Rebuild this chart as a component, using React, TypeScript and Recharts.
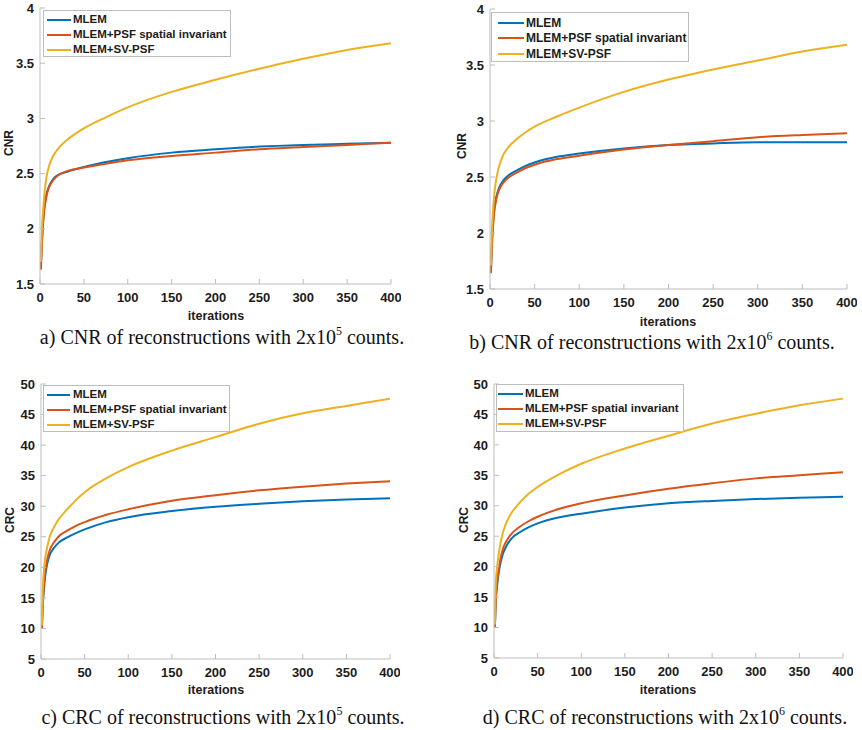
import React from 'react';
import { LineChart, Line, XAxis, YAxis, Legend } from 'recharts';

// ---------- data ----------
const iterations = [1, 2, 4, 7, 10, 15, 20, 30, 40, 50, 75, 100, 150, 200, 250, 300, 350, 400];
const xTicks = [0, 50, 100, 150, 200, 250, 300, 350, 400];
const cnrTicks = [1.5, 2, 2.5, 3, 3.5, 4];
const crcTicks = [5, 10, 15, 20, 25, 30, 35, 40, 45, 50];
const seriesNames = ['MLEM', 'MLEM+PSF spatial invariant', 'MLEM+SV-PSF'];
const seriesColors = ['#0072BD', '#D95319', '#EDB120'];

// a) CNR, 2x10^5 counts
const cnrLowMlem = [1.66, 1.85, 2.12, 2.3, 2.38, 2.45, 2.485, 2.515, 2.54, 2.56, 2.605, 2.64, 2.69, 2.72, 2.745, 2.76, 2.77, 2.78];
const cnrLowPsf = [1.63, 1.82, 2.1, 2.28, 2.37, 2.44, 2.48, 2.52, 2.54, 2.555, 2.59, 2.62, 2.66, 2.69, 2.72, 2.74, 2.76, 2.78];
const cnrLowSv = [1.7, 1.95, 2.22, 2.45, 2.56, 2.66, 2.72, 2.8, 2.86, 2.91, 3.01, 3.1, 3.24, 3.35, 3.45, 3.54, 3.62, 3.68];

// b) CNR, 2x10^6 counts
const cnrHighMlem = [1.65, 1.88, 2.15, 2.32, 2.4, 2.47, 2.51, 2.56, 2.6, 2.63, 2.68, 2.71, 2.755, 2.785, 2.8, 2.81, 2.81, 2.81];
const cnrHighPsf = [1.64, 1.86, 2.13, 2.3, 2.38, 2.45, 2.49, 2.54, 2.58, 2.61, 2.66, 2.69, 2.745, 2.785, 2.82, 2.855, 2.875, 2.89];
const cnrHighSv = [1.71, 1.98, 2.27, 2.48, 2.59, 2.7, 2.76, 2.84, 2.9, 2.95, 3.04, 3.12, 3.26, 3.37, 3.46, 3.54, 3.62, 3.68];

// c) CRC, 2x10^5 counts
const crcLowMlem = [10, 13.5, 17.5, 20.5, 22.0, 23.2, 24.0, 24.9, 25.6, 26.2, 27.4, 28.2, 29.2, 29.9, 30.4, 30.8, 31.1, 31.3];
const crcLowPsf = [10, 14, 18.2, 21.2, 22.8, 24.1, 25.0, 26.0, 26.8, 27.4, 28.6, 29.5, 30.9, 31.8, 32.6, 33.2, 33.7, 34.1];
const crcLowSv = [10.5, 16, 20.5, 23.2, 25.0, 26.6, 27.8, 29.5, 31.0, 32.3, 34.6, 36.4, 39.1, 41.3, 43.5, 45.2, 46.4, 47.6];

// d) CRC, 2x10^6 counts
const crcHighMlem = [10, 14, 17.5, 20.3, 22.0, 23.6, 24.6, 25.7, 26.5, 27.1, 28.1, 28.7, 29.7, 30.4, 30.8, 31.1, 31.3, 31.5];
const crcHighPsf = [10, 14.5, 18.0, 21.0, 22.8, 24.4, 25.4, 26.6, 27.5, 28.2, 29.5, 30.4, 31.7, 32.8, 33.7, 34.5, 35.0, 35.5];
const crcHighSv = [10.5, 17, 20.5, 23.5, 25.5, 27.5, 28.8, 30.6, 32.0, 33.1, 35.2, 36.9, 39.4, 41.5, 43.5, 45.1, 46.5, 47.6];

const buildRows = (a: number[], b: number[], c: number[]) =>
  iterations.map((it, i) => ({ it, s0: a[i], s1: b[i], s2: c[i] }));

// ---------- styling ----------
const SANS = "'Liberation Sans', Arial, Helvetica, sans-serif";
const SERIF = "'Liberation Serif', 'Times New Roman', Times, serif";
const AXIS_GRAY = '#BDBDBD';
const TEXT = '#1c1c1c';

type PanelCfg = {
  rows: any[];
  yDomain: [number, number];
  yTicks: number[];
  plot: { l: number; r: number; t: number; b: number };
  legend: { l: number; t: number; w: number; h: number; padTop: number; rowH: number; lineL: number; lineW: number; gap: number; fs: number };
  yLabel: string;
  yLabelPos: [number, number];
  xLabelPos: [number, number];
  caption: [string, string, string];
  captionPos: [number, number];
  tickFs: number;
};

const panels: PanelCfg[] = [
  {
    rows: buildRows(cnrLowMlem, cnrLowPsf, cnrLowSv),
    yDomain: [1.5, 4],
    yTicks: cnrTicks,
    plot: { l: 40, r: 391, t: 8, b: 284 },
    legend: { l: 43, t: 10, w: 188, h: 47, padTop: 1, rowH: 15, lineL: 4, lineW: 24, gap: 2, fs: 11.5 },
    yLabel: 'CNR',
    yLabelPos: [9, 143],
    xLabelPos: [216, 316],
    caption: ['a) CNR of reconstructions with 2x10', '5', ' counts.'],
    captionPos: [222, 337],
    tickFs: 13,
  },
  {
    rows: buildRows(cnrHighMlem, cnrHighPsf, cnrHighSv),
    yDomain: [1.5, 4],
    yTicks: cnrTicks,
    plot: { l: 490, r: 847, t: 9, b: 289 },
    legend: { l: 491, t: 12, w: 198, h: 50, padTop: 2, rowH: 15.5, lineL: 7, lineW: 26, gap: 2, fs: 12 },
    yLabel: 'CNR',
    yLabelPos: [462, 146],
    xLabelPos: [668, 322],
    caption: ['b) CNR of reconstructions with 2x10', '6', ' counts.'],
    captionPos: [652, 342],
    tickFs: 13,
  },
  {
    rows: buildRows(crcLowMlem, crcLowPsf, crcLowSv),
    yDomain: [5, 50],
    yTicks: crcTicks,
    plot: { l: 41, r: 390, t: 384, b: 659 },
    legend: { l: 43, t: 385, w: 187, h: 47, padTop: 1, rowH: 15, lineL: 4, lineW: 23, gap: 3, fs: 11.5 },
    yLabel: 'CRC',
    yLabelPos: [10, 520],
    xLabelPos: [216, 690],
    caption: ['c) CRC of reconstructions with 2x10', '5', ' counts.'],
    captionPos: [223, 717],
    tickFs: 13,
  },
  {
    rows: buildRows(crcHighMlem, crcHighPsf, crcHighSv),
    yDomain: [5, 50],
    yTicks: crcTicks,
    plot: { l: 494, r: 843, t: 384, b: 658 },
    legend: { l: 496, t: 384, w: 188, h: 48, padTop: 1.5, rowH: 15, lineL: 2, lineW: 25, gap: 2, fs: 11.5 },
    yLabel: 'CRC',
    yLabelPos: [464, 520],
    xLabelPos: [668, 690],
    caption: ['d) CRC of reconstructions with 2x10', '6', ' counts.'],
    captionPos: [665, 717],
    tickFs: 13,
  },
];

const noTick = () => <g />;

const makeLegend = (cfg: PanelCfg['legend']) => (props: any) => {
  const payload = props.payload || [];
  return (
    <div
      style={{
        width: cfg.w,
        height: cfg.h,
        boxSizing: 'border-box',
        border: `1px solid ${AXIS_GRAY}`,
        background: '#fff',
        paddingTop: cfg.padTop,
      }}
    >
      {payload.map((p: any) => (
        <div key={p.value} style={{ display: 'flex', alignItems: 'center', height: cfg.rowH }}>
          <span style={{ display: 'inline-block', marginLeft: cfg.lineL - 1, width: cfg.lineW, height: 2, background: p.color }} />
          <span
            style={{
              marginLeft: cfg.gap,
              fontFamily: SANS,
              fontWeight: 'bold',
              fontSize: cfg.fs,
              color: TEXT,
              whiteSpace: 'nowrap',
              lineHeight: 1,
            }}
          >
            {p.value}
          </span>
        </div>
      ))}
    </div>
  );
};

const Panel = ({ cfg }: { cfg: PanelCfg }) => {
  const YW = 40;
  const XH = 30;
  const chartLeft = cfg.plot.l - YW;
  const chartTop = cfg.plot.t - 8;
  const width = cfg.plot.r - chartLeft + 10;
  const height = cfg.plot.b - chartTop + XH;
  const tickStyle = { fontFamily: SANS, fontWeight: 'bold', fontSize: cfg.tickFs, fill: TEXT };
  return (
    <>
      <div style={{ position: 'absolute', left: chartLeft, top: chartTop, width, height }}>
        <LineChart width={width} height={height} data={cfg.rows} margin={{ top: 8, right: 10, left: 0, bottom: 0 }}>
          <XAxis
            dataKey="it"
            type="number"
            domain={[0, 400]}
            ticks={xTicks}
            allowDataOverflow
            height={XH}
            stroke={AXIS_GRAY}
            tickSize={-5}
            tickMargin={14}
            tick={tickStyle}
            interval={0}
          />
          <XAxis
            xAxisId="top"
            orientation="top"
            dataKey="it"
            type="number"
            domain={[0, 400]}
            ticks={xTicks}
            allowDataOverflow
            height={0}
            stroke={AXIS_GRAY}
            tickSize={-5}
            tick={noTick}
            interval={0}
          />
          <YAxis
            type="number"
            domain={cfg.yDomain}
            ticks={cfg.yTicks}
            allowDataOverflow
            width={YW}
            stroke={AXIS_GRAY}
            tickSize={-5}
            tickMargin={11}
            tick={tickStyle}
            interval={0}
          />
          <YAxis
            yAxisId="right"
            orientation="right"
            type="number"
            domain={cfg.yDomain}
            ticks={cfg.yTicks}
            allowDataOverflow
            width={0}
            stroke={AXIS_GRAY}
            tickSize={-5}
            tick={noTick}
            interval={0}
          />
          <Legend
            layout="vertical"
            align="center"
            verticalAlign="middle"
            content={makeLegend(cfg.legend)}
            wrapperStyle={{ left: cfg.legend.l - chartLeft, top: cfg.legend.t - chartTop, width: cfg.legend.w, height: cfg.legend.h }}
          />
          {seriesNames.map((name, i) => (
            <Line
              key={name}
              type="monotone"
              dataKey={`s${i}`}
              name={name}
              stroke={seriesColors[i]}
              strokeWidth={2}
              dot={false}
              activeDot={false}
              isAnimationActive={false}
            />
          ))}
        </LineChart>
      </div>
      <div
        style={{
          position: 'absolute',
          left: cfg.yLabelPos[0],
          top: cfg.yLabelPos[1],
          transform: 'translate(-50%, -50%) rotate(-90deg)',
          fontFamily: SANS,
          fontWeight: 'bold',
          fontSize: 12,
          color: TEXT,
          whiteSpace: 'nowrap',
          lineHeight: 1,
        }}
      >
        {cfg.yLabel}
      </div>
      <div
        style={{
          position: 'absolute',
          left: cfg.xLabelPos[0],
          top: cfg.xLabelPos[1],
          transform: 'translate(-50%, -50%)',
          fontFamily: SANS,
          fontWeight: 'bold',
          fontSize: 12.5,
          color: TEXT,
          whiteSpace: 'nowrap',
          lineHeight: 1,
        }}
      >
        iterations
      </div>
      <div
        style={{
          position: 'absolute',
          left: cfg.captionPos[0],
          top: cfg.captionPos[1],
          transform: 'translate(-50%, -50%)',
          fontFamily: SERIF,
          fontSize: 20,
          color: '#111',
          whiteSpace: 'nowrap',
          lineHeight: 1,
        }}
      >
        {cfg.caption[0]}
        <sup style={{ fontSize: 12, verticalAlign: 'top', position: 'relative', top: -2 }}>{cfg.caption[1]}</sup>
        {cfg.caption[2]}
      </div>
    </>
  );
};

export default function App() {
  return (
    <div style={{ position: 'absolute', left: 0, top: 0, width: 862, height: 730, background: '#fff', overflow: 'hidden' }}>
      {panels.map((p, i) => (
        <Panel key={i} cfg={p} />
      ))}
    </div>
  );
}
